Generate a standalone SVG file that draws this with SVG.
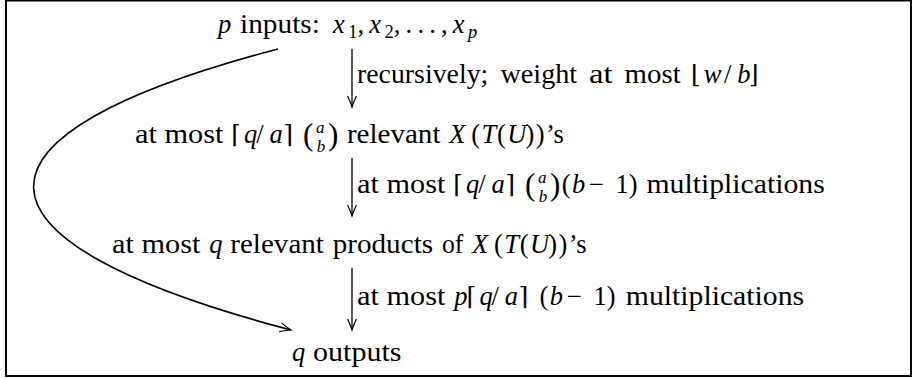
<svg xmlns="http://www.w3.org/2000/svg" width="915" height="379" viewBox="0 0 915 379">
<style>
text{font-family:'Liberation Serif','Times New Roman',serif;font-size:26.5px;fill:#000}
.i{font-style:italic}
.s{font-size:18.5px}
.bn{font-size:17px}
.bp{font-size:31px}
.br{font-family:'DejaVu Serif','Liberation Serif',serif;font-size:25px}
.c{fill:none;stroke:#000;stroke-width:1.3}
.cv{fill:none;stroke:#000;stroke-width:1.6}
</style>
<defs>
<marker id="ah" markerUnits="userSpaceOnUse" viewBox="-12 -6 14 12" refX="0" refY="0" markerWidth="14" markerHeight="12" orient="auto">
<path d="M-11,-4.5 Q-4,-1.2 0,0 Q-4,1.2 -11,4.5" fill="none" stroke="#000" stroke-width="1.2"/>
</marker>
</defs>
<rect x="6" y="0.5" width="905" height="375.5" fill="none" stroke="#000" stroke-width="2"/>

<g id="connectors">
<line class="c" x1="352" y1="49" x2="352" y2="107" marker-end="url(#ah)"/>
<line class="c" x1="352" y1="158" x2="352" y2="216" marker-end="url(#ah)"/>
<line class="c" x1="352" y1="268" x2="352" y2="330" marker-end="url(#ah)"/>
<path class="cv" d="M278,49 C-50,135 -50,240 291,330" marker-end="url(#ah)"/>
</g>

<g id="n-inputs">
<text class="i" x="218" y="33">p</text>
<text x="240.1" y="33" textLength="79.7" lengthAdjust="spacingAndGlyphs">inputs:</text>
<text class="i" x="333" y="33">x</text>
<text class="s" x="348.2" y="38">1</text>
<text x="357.5" y="33">,</text>
<text class="i" x="369.3" y="33">x</text>
<text class="s" x="384.5" y="38">2</text>
<text x="393.8" y="33">,</text>
<text x="405.6" y="33">.</text>
<text x="417.4" y="33">.</text>
<text x="429.2" y="33">.</text>
<text x="441" y="33">,</text>
<text class="i" x="452.8" y="33">x</text>
<text class="s i" x="468" y="38">p</text>
</g>

<g id="e-recursive">
<text x="357" y="83" textLength="131.3" lengthAdjust="spacingAndGlyphs">recursively;</text>
<text x="500.5" y="83" textLength="76.6" lengthAdjust="spacingAndGlyphs">weight</text>
<text x="589" y="83" textLength="23.6" lengthAdjust="spacingAndGlyphs">at</text>
<text x="624.6" y="83" textLength="56.1" lengthAdjust="spacingAndGlyphs">most</text>
<text class="br" x="691" y="83">⌊</text>
<text class="i" x="703.8" y="83">w</text>
<text x="724" y="83">/</text>
<text class="i" x="737.3" y="83">b</text>
<text class="br" x="749" y="83">⌋</text>
</g>

<g id="n-relevant">
<text x="135" y="143" textLength="88.5" lengthAdjust="spacingAndGlyphs">at most</text>
<text class="br" x="231.3" y="143">⌈</text>
<text class="i" x="244.1" y="143">q</text>
<text x="256.3" y="143">/</text>
<text class="i" x="269.5" y="143">a</text>
<text class="br" x="283.5" y="143">⌉</text>
<text x="303" y="145"><tspan class="bp">(</tspan><tspan class="bn i" x="316" y="133">a</tspan><tspan class="bn i" x="316.8" y="152">b</tspan><tspan class="bp" x="328" y="145">)</tspan></text>
<text x="346.9" y="143" textLength="93.6" lengthAdjust="spacingAndGlyphs">relevant</text>
<text class="i" x="449.3" y="143">X</text>
<text x="471.2" y="143">(</text>
<text class="i" x="481.5" y="143">T</text>
<text x="497" y="143">(</text>
<text class="i" x="507.3" y="143">U</text>
<text x="525.4" y="143">)</text>
<text x="535.7" y="143">)</text>
<text x="546" y="143" textLength="17.8" lengthAdjust="spacingAndGlyphs">’s</text>
</g>

<g id="e-mult1">
<text x="357" y="193" textLength="88.5" lengthAdjust="spacingAndGlyphs">at most</text>
<text class="br" x="453.3" y="193">⌈</text>
<text class="i" x="466.1" y="193">q</text>
<text x="478.3" y="193">/</text>
<text class="i" x="491.5" y="193">a</text>
<text class="br" x="505.5" y="193">⌉</text>
<text x="525" y="195"><tspan class="bp">(</tspan><tspan class="bn i" x="538" y="183">a</tspan><tspan class="bn i" x="538.8" y="202">b</tspan><tspan class="bp" x="550" y="195">)</tspan></text>
<text x="561.8" y="193">(</text>
<text class="i" x="572" y="193">b</text>
<text x="589" y="193">−</text>
<text x="615.5" y="193">1</text>
<text x="628.7" y="193">)</text>
<text x="646.5" y="193" textLength="178.3" lengthAdjust="spacingAndGlyphs">multiplications</text>
</g>

<g id="n-products">
<text x="112" y="253" textLength="88.5" lengthAdjust="spacingAndGlyphs">at most</text>
<text class="i" x="209.3" y="253">q</text>
<text x="230.3" y="253" textLength="93.6" lengthAdjust="spacingAndGlyphs">relevant</text>
<text x="332.7" y="253" textLength="100.4" lengthAdjust="spacingAndGlyphs">products</text>
<text x="441.9" y="253" textLength="21.4" lengthAdjust="spacingAndGlyphs">of</text>
<text class="i" x="472.1" y="253">X</text>
<text x="494" y="253">(</text>
<text class="i" x="504.3" y="253">T</text>
<text x="519.8" y="253">(</text>
<text class="i" x="530.1" y="253">U</text>
<text x="548.2" y="253">)</text>
<text x="558.5" y="253">)</text>
<text x="568.8" y="253" textLength="17.8" lengthAdjust="spacingAndGlyphs">’s</text>
</g>

<g id="e-mult2">
<text x="357" y="305" textLength="88.5" lengthAdjust="spacingAndGlyphs">at most</text>
<text class="i" x="454.3" y="305">p</text>
<text class="br" x="466.6" y="305">⌈</text>
<text class="i" x="479.4" y="305">q</text>
<text x="491.6" y="305">/</text>
<text class="i" x="504.8" y="305">a</text>
<text class="br" x="518.8" y="305">⌉</text>
<text x="539.4" y="305">(</text>
<text class="i" x="549.7" y="305">b</text>
<text x="567" y="305">−</text>
<text x="593.5" y="305">1</text>
<text x="606.7" y="305">)</text>
<text x="625.8" y="305" textLength="178.3" lengthAdjust="spacingAndGlyphs">multiplications</text>
</g>

<g id="n-outputs">
<text class="i" x="292" y="361">q</text>
<text x="313" y="361" textLength="88.5" lengthAdjust="spacingAndGlyphs">outputs</text>
</g>
</svg>
